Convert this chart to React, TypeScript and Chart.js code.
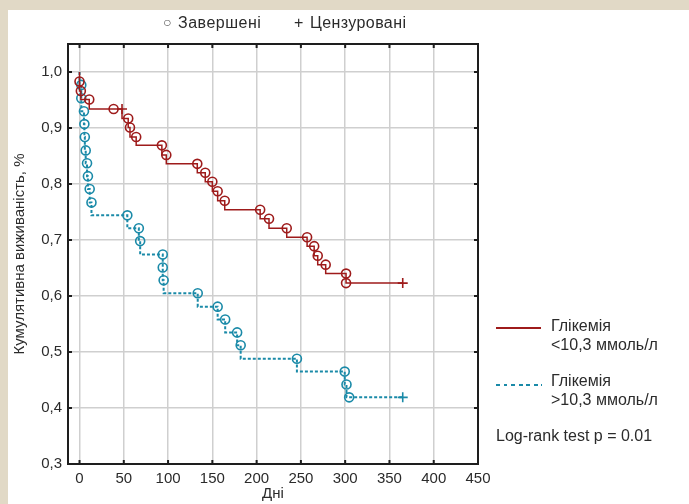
import React, { useEffect, useRef } from "react";
import { Chart, registerables } from "chart.js";

Chart.register(...registerables);

// ---- data ----
const START_TIME = 0;
const START_SURV = 1.0;

const lowTimes = [0, 1.5, 11, 38.5, 48, 55, 57, 64, 93, 98, 133, 142, 150, 156, 164, 204, 214, 234, 257, 265, 269, 278, 301, 301, 365];
const lowSurv = [0.983, 0.966, 0.951, 0.934, 0.934, 0.917, 0.901, 0.884, 0.869, 0.852, 0.836, 0.82, 0.804, 0.787, 0.77, 0.754, 0.738, 0.721, 0.705, 0.689, 0.672, 0.656, 0.64, 0.623, 0.623];
const lowCensored = [false, false, false, false, true, false, false, false, false, false, false, false, false, false, false, false, false, false, false, false, false, false, false, false, true];

const highTimes = [2, 2, 5, 5.5, 6, 7, 8.5, 9.5, 11.5, 13.5, 54, 67, 68.5, 94, 94, 95, 133.5, 156, 164.5, 178, 182, 245.5, 299.5, 301.5, 304.5, 365];
const highSurv = [0.977, 0.953, 0.93, 0.907, 0.884, 0.86, 0.837, 0.814, 0.791, 0.767, 0.744, 0.721, 0.698, 0.674, 0.651, 0.628, 0.605, 0.581, 0.558, 0.535, 0.512, 0.488, 0.465, 0.442, 0.419, 0.419];
const highCensored = [false, false, false, false, false, false, false, false, false, false, false, false, false, false, false, false, false, false, false, false, false, false, false, false, false, true];

const xTicks = [0, 50, 100, 150, 200, 250, 300, 350, 400, 450];
const yTicks = [0.3, 0.4, 0.5, 0.6, 0.7, 0.8, 0.9, 1.0];

const lowLabel = ["Глікемія", "<10,3 ммоль/л"];
const highLabel = ["Глікемія", ">10,3 ммоль/л"];
const xTitle = "Дні";
const yTitle = "Кумулятивна виживаність, %";
const eventSymbol = "○";
const eventLabel = "Завершені";
const censorSymbol = "+";
const censorLabel = "Цензуровані";
const testNote = "Log-rank test p = 0.01";

const RED = "#9e1b1b";
const BLUE = "#1a8aa8";
const GRID = "#cfcfcf";
const TEXT = "#2b2b2b";
const FONT = "'Liberation Sans', Arial, sans-serif";

function buildSeries(times: number[], surv: number[], cens: boolean[]) {
  const pts = [{ x: START_TIME, y: START_SURV }];
  const styles: string[] = ["circle"];
  const radii: number[] = [0];
  times.forEach((t, i) => {
    pts.push({ x: t, y: surv[i] });
    styles.push(cens[i] ? "cross" : "circle");
    radii.push(cens[i] ? 5 : 4.5);
  });
  return { pts, styles, radii };
}

const framePlugin = {
  id: "frame",
  afterDraw(chart: any) {
    const { ctx, chartArea: a, scales } = chart;
    ctx.save();
    ctx.strokeStyle = "#1e1e1e";
    ctx.lineWidth = 2;
    ctx.beginPath();
    xTicks.forEach((v) => {
      const px = scales.x.getPixelForValue(v);
      if (px >= a.right - 1) return;
      ctx.moveTo(px, a.bottom);
      ctx.lineTo(px, a.bottom - 4);
      ctx.moveTo(px, a.top);
      ctx.lineTo(px, a.top + 4);
    });
    yTicks.forEach((v) => {
      const py = scales.y.getPixelForValue(v);
      ctx.moveTo(a.left, py);
      ctx.lineTo(a.left + 4, py);
      ctx.moveTo(a.right, py);
      ctx.lineTo(a.right - 4, py);
    });
    ctx.stroke();
    ctx.strokeRect(a.left, a.top, a.right - a.left, a.bottom - a.top);
    ctx.restore();
  },
};

export default function App() {
  const ref = useRef<HTMLCanvasElement | null>(null);

  useEffect(() => {
    const low = buildSeries(lowTimes, lowSurv, lowCensored);
    const high = buildSeries(highTimes, highSurv, highCensored);
    const font = { family: FONT, size: 15 };
    const chart = new Chart(ref.current as HTMLCanvasElement, {
      type: "line",
      data: {
        datasets: [
          {
            label: lowLabel.join(" "),
            data: low.pts,
            stepped: "after",
            borderColor: RED,
            borderWidth: 1.5,
            pointStyle: low.styles as any,
            pointRadius: low.radii,
            pointBorderColor: RED,
            pointBackgroundColor: "rgba(0,0,0,0)",
            pointBorderWidth: 1.6,
            fill: false,
          },
          {
            label: highLabel.join(" "),
            data: high.pts,
            stepped: "after",
            borderColor: BLUE,
            borderWidth: 2,
            borderDash: [3, 2],
            pointStyle: high.styles as any,
            pointRadius: high.radii,
            pointBorderColor: BLUE,
            pointBackgroundColor: "rgba(0,0,0,0)",
            pointBorderWidth: 1.6,
            fill: false,
          },
        ],
      },
      options: {
        responsive: false,
        animation: false,
        layout: { padding: { left: 8, top: 44, right: 211, bottom: 0 } },
        plugins: { legend: { display: false }, tooltip: { enabled: false } },
        scales: {
          x: {
            type: "linear",
            min: -13,
            max: 450,
            afterBuildTicks: (s: any) => {
              s.ticks = xTicks.map((v) => ({ value: v }));
            },
            afterFit: (s: any) => {
              s.height = 40;
            },
            grid: { color: GRID, lineWidth: 1.5, drawTicks: false },
            border: { display: false },
            ticks: { padding: 6, font, color: TEXT, callback: (v: any) => String(v) },
            title: { display: true, text: xTitle, font, color: TEXT, padding: { top: 0, bottom: 1 } },
          },
          y: {
            type: "linear",
            min: 0.3,
            max: 1.05,
            afterBuildTicks: (s: any) => {
              s.ticks = yTicks.map((v) => ({ value: v }));
            },
            afterFit: (s: any) => {
              s.width = 60;
            },
            grid: { color: GRID, lineWidth: 1.5, drawTicks: false },
            border: { display: false },
            ticks: {
              padding: 6,
              font,
              color: TEXT,
              callback: (v: any) => Number(v).toFixed(1).replace(".", ","),
            },
            title: { display: true, text: yTitle, font, color: TEXT, padding: { top: 3, bottom: 0 } },
          },
        },
      },
      plugins: [framePlugin],
    } as any);
    return () => chart.destroy();
  }, []);

  const txt: React.CSSProperties = {
    position: "absolute",
    fontFamily: FONT,
    fontSize: 16,
    color: TEXT,
    whiteSpace: "nowrap",
    lineHeight: "19px",
  };

  return (
    <div style={{ position: "fixed", left: 0, top: 0, width: 689, height: 504, background: "#e1d9c6", overflow: "hidden" }}>
      <div style={{ position: "absolute", left: 8, top: 10, right: 0, bottom: 0, background: "#ffffff" }} />
      <canvas ref={ref} width={689} height={504} style={{ position: "absolute", left: 0, top: 0, width: 689, height: 504 }} />
      <div style={{ ...txt, left: 163, top: 13, fontSize: 14, color: "#555" }}>{eventSymbol}</div>
      <div style={{ ...txt, left: 178, top: 13, letterSpacing: 0.5 }}>{eventLabel}</div>
      <div style={{ ...txt, left: 294, top: 13 }}>{censorSymbol}</div>
      <div style={{ ...txt, left: 310, top: 13, letterSpacing: 0.4 }}>{censorLabel}</div>

      <div style={{ position: "absolute", left: 496, top: 327, width: 45, height: 1.5, background: RED }} />
      <div style={{ ...txt, left: 551, top: 316 }}>
        {lowLabel[0]}
        <br />
        {lowLabel[1]}
      </div>
      <div
        style={{
          position: "absolute",
          left: 496,
          top: 384,
          width: 46,
          height: 2,
          background: `repeating-linear-gradient(to right, ${BLUE} 0px, ${BLUE} 4px, transparent 4px, transparent 7.5px)`,
        }}
      />
      <div style={{ ...txt, left: 551, top: 371 }}>
        {highLabel[0]}
        <br />
        {highLabel[1]}
      </div>
      <div style={{ ...txt, left: 496, top: 426 }}>{testNote}</div>
    </div>
  );
}
